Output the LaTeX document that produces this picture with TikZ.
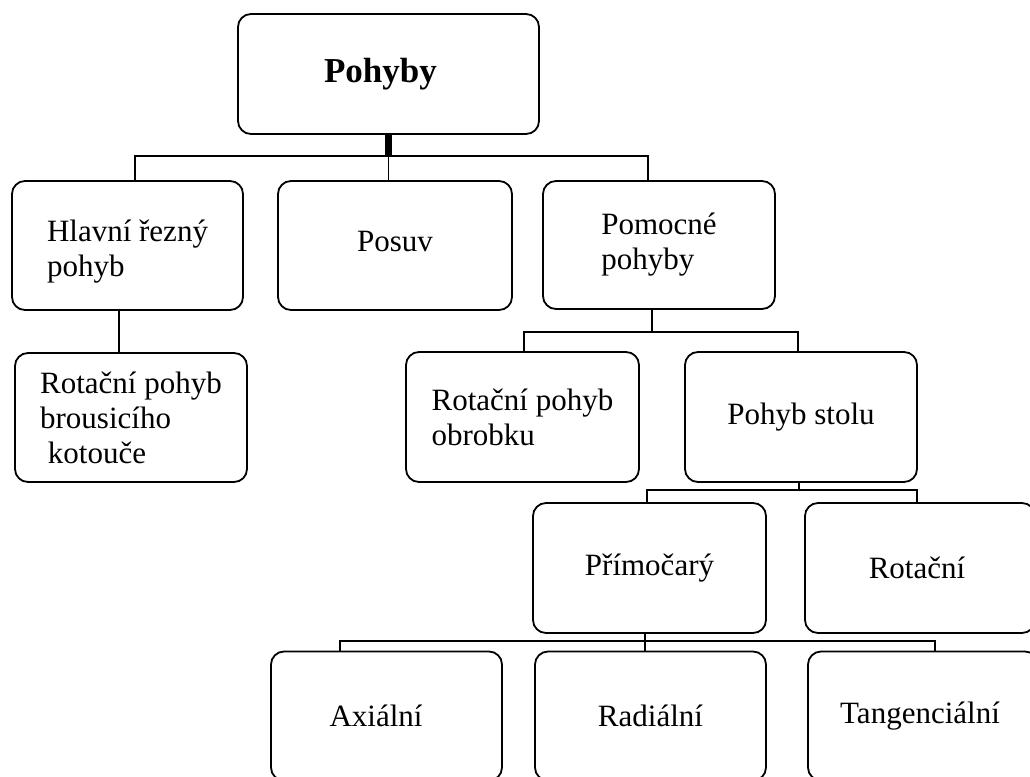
\documentclass[tikz,border=0pt]{standalone}
\usepackage{fontspec}
\setmainfont{Liberation Serif}
\begin{document}
\begin{tikzpicture}[x=1pt,y=-1pt,
  box/.style={draw=black, line width=1.8pt, rounded corners=13pt, outer sep=0pt, inner sep=2pt,
    font=\fontsize{31}{35}\selectfont, align=left, anchor=center},
  conn/.style={draw=black, line width=1.8pt},
  stem/.style={draw=black, line width=7pt}]
\useasboundingbox (0,0) rectangle (1030,776);
\clip (0,0) rectangle (1030,776);
% boxes
\node[box, minimum width=301pt, minimum height=120pt, font=\fontsize{35}{40}\selectfont\bfseries] (pohyby) at (388.5,74) {Pohyby\hspace*{16pt}};
\node[box, minimum width=231pt, minimum height=129pt] (hlavni) at (127.5,245.5) {\rule{0pt}{34pt}Hlavní řezný\\pohyb};
\node[box, minimum width=234pt, minimum height=129pt] (posuv) at (395,245.5) {\rule[-8pt]{0pt}{8pt}Posuv};
\node[box, minimum width=232pt, minimum height=128pt] (pomocne) at (659,245) {Pomocné\\pohyby};
\node[box, minimum width=232pt, minimum height=129pt] (rotbrus) at (131,417.5) {Rotační pohyb\\brousicího\\\ kotouče};
\node[box, minimum width=233pt, minimum height=130pt] (rotobr) at (522.5,417) {Rotační pohyb\\obrobku};
\node[box, minimum width=232pt, minimum height=130pt] (stolu) at (801,417) {Pohyb stolu};
\node[box, minimum width=233pt, minimum height=130pt] (prim) at (649.5,568) {Přímočarý};
\node[box, minimum width=230pt, minimum height=130pt] (rotac) at (920,568) {\hspace*{-6pt}Rotační};
\node[box, minimum width=231pt, minimum height=129pt] (axi) at (386.5,716) {Axiální\hspace*{21pt}};
\node[box, minimum width=231pt, minimum height=129pt] (radi) at (650.5,716) {Radiální};
\node[box, minimum width=230pt, minimum height=129pt] (tang) at (923,716) {\hspace*{-6pt}Tangenciální};
% bus coordinates
\coordinate (b1l) at (135,156);
\coordinate (b1r) at (648,156);
\coordinate (b2l) at (524,332);
\coordinate (b2r) at (798,332);
\coordinate (b2m) at (652,332);
\coordinate (b3l) at (647,490);
\coordinate (b3r) at (917,490);
\coordinate (b3m) at (799,490);
\coordinate (b4l) at (340,641);
\coordinate (b4r) at (935,641);
\coordinate (b4m) at (645,641);
\coordinate (h1) at (119,310);
% connectors
\draw[stem] (pohyby.south) -- (pohyby.south |- b1l);
\draw[conn] (pohyby.south |- b1l) -- (posuv.north -| pohyby.south);
\draw[conn] (hlavni.north -| b1l) -- (b1l) -- (b1r) -- (pomocne.north -| b1r);
\draw[conn] (hlavni.south -| h1) -- (rotbrus.north -| h1);
\draw[conn] (pomocne.south -| b2m) -- (b2m);
\draw[conn] (rotobr.north -| b2l) -- (b2l) -- (b2r) -- (stolu.north -| b2r);
\draw[conn] (stolu.south -| b3m) -- (b3m);
\draw[conn] (prim.north -| b3l) -- (b3l) -- (b3r) -- (rotac.north -| b3r);
\draw[conn] (prim.south -| b4m) -- (radi.north -| b4m);
\draw[conn] (axi.north -| b4l) -- (b4l) -- (b4r) -- (tang.north -| b4r);
\end{tikzpicture}
\end{document}
